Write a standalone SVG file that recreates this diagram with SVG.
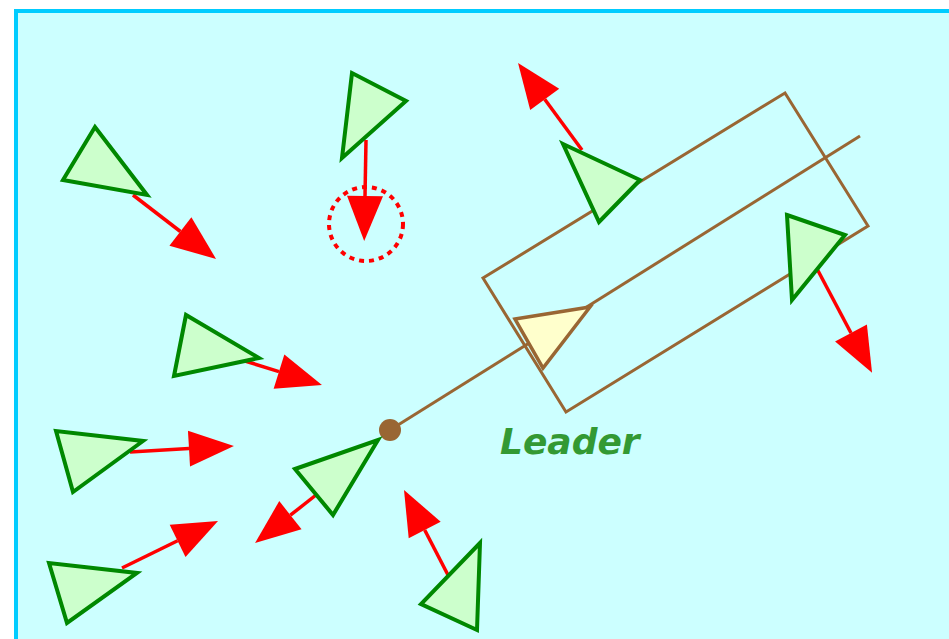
<svg xmlns="http://www.w3.org/2000/svg" width="949" height="639" viewBox="0 0 949 639">
<style>
.boid{fill:#ccffcc;stroke:#008800;stroke-width:4;stroke-linejoin:miter}
.vel{stroke:#ff0000;stroke-width:3.5;fill:none;marker-end:url(#ah)}
.brown{stroke:#996633;stroke-width:3;fill:none}
</style>
<defs>
<marker id="ah" markerUnits="userSpaceOnUse" viewBox="0 -18 45 36" refX="0" refY="0" markerWidth="45" markerHeight="36" orient="auto" overflow="visible">
<path d="M0,-18 L45,0 L0,18 z" fill="#ff0000"/>
</marker>
</defs>
<rect x="16" y="11" width="945" height="645" fill="#ccffff" stroke="#00ccff" stroke-width="4"/>
<g id="leader-zone">
<polygon class="brown" points="785,93 868,226 566,412 483,278"/>
<line class="brown" x1="390" y1="430" x2="860" y2="136"/>
<circle cx="390" cy="430" r="11" fill="#996633"/>
</g>
<g id="connectors">
<line class="vel" x1="133" y1="195" x2="180.4" y2="231.5"/>
<line class="vel" x1="366" y1="140" x2="365" y2="196"/>
<line class="vel" x1="582" y1="150" x2="544.7" y2="99.3"/>
<line class="vel" x1="815" y1="265" x2="851" y2="333"/>
<line class="vel" x1="245" y1="361" x2="279" y2="371.6"/>
<line class="vel" x1="130" y1="452" x2="189" y2="448.6"/>
<line class="vel" x1="122" y1="568" x2="177.6" y2="540.8"/>
<line class="vel" x1="316" y1="495" x2="290.4" y2="515.2"/>
<line class="vel" x1="448" y1="575" x2="424.7" y2="530"/>
</g>
<g id="boid1"><polygon class="boid" points="95,127 63,180 147,195"/></g>
<g id="boid2"><polygon class="boid" points="352,73 342,158 406,101"/></g>
<g id="boid3"><polygon class="boid" points="563,144 640,180 599,222"/></g>
<g id="boid4"><polygon class="boid" points="787,215 845,235 792,300"/></g>
<g id="boid5"><polygon class="boid" points="186,315 174,376 259,358"/></g>
<g id="boid6"><polygon class="boid" points="56,431 73,492 143,441"/></g>
<g id="boid7"><polygon class="boid" points="49,563 67,623 137,573"/></g>
<g id="boid8"><polygon class="boid" points="295,469 378,440 333,515"/></g>
<g id="boid9"><polygon class="boid" points="480,543 421,604 477,630"/></g>
<g id="leader"><polygon points="515,319 590,307 543,368" fill="#ffffcc" stroke="#996633" stroke-width="3.5"/></g>
<g id="focus"><circle cx="366" cy="224" r="37" fill="none" stroke="#ff0000" stroke-width="4" stroke-dasharray="5 5"/></g>
<g id="label"><text x="500" y="454" font-family="DejaVu Sans, Verdana, sans-serif" font-weight="bold" font-style="italic" font-size="36" fill="#339933">Leader</text></g>
</svg>
